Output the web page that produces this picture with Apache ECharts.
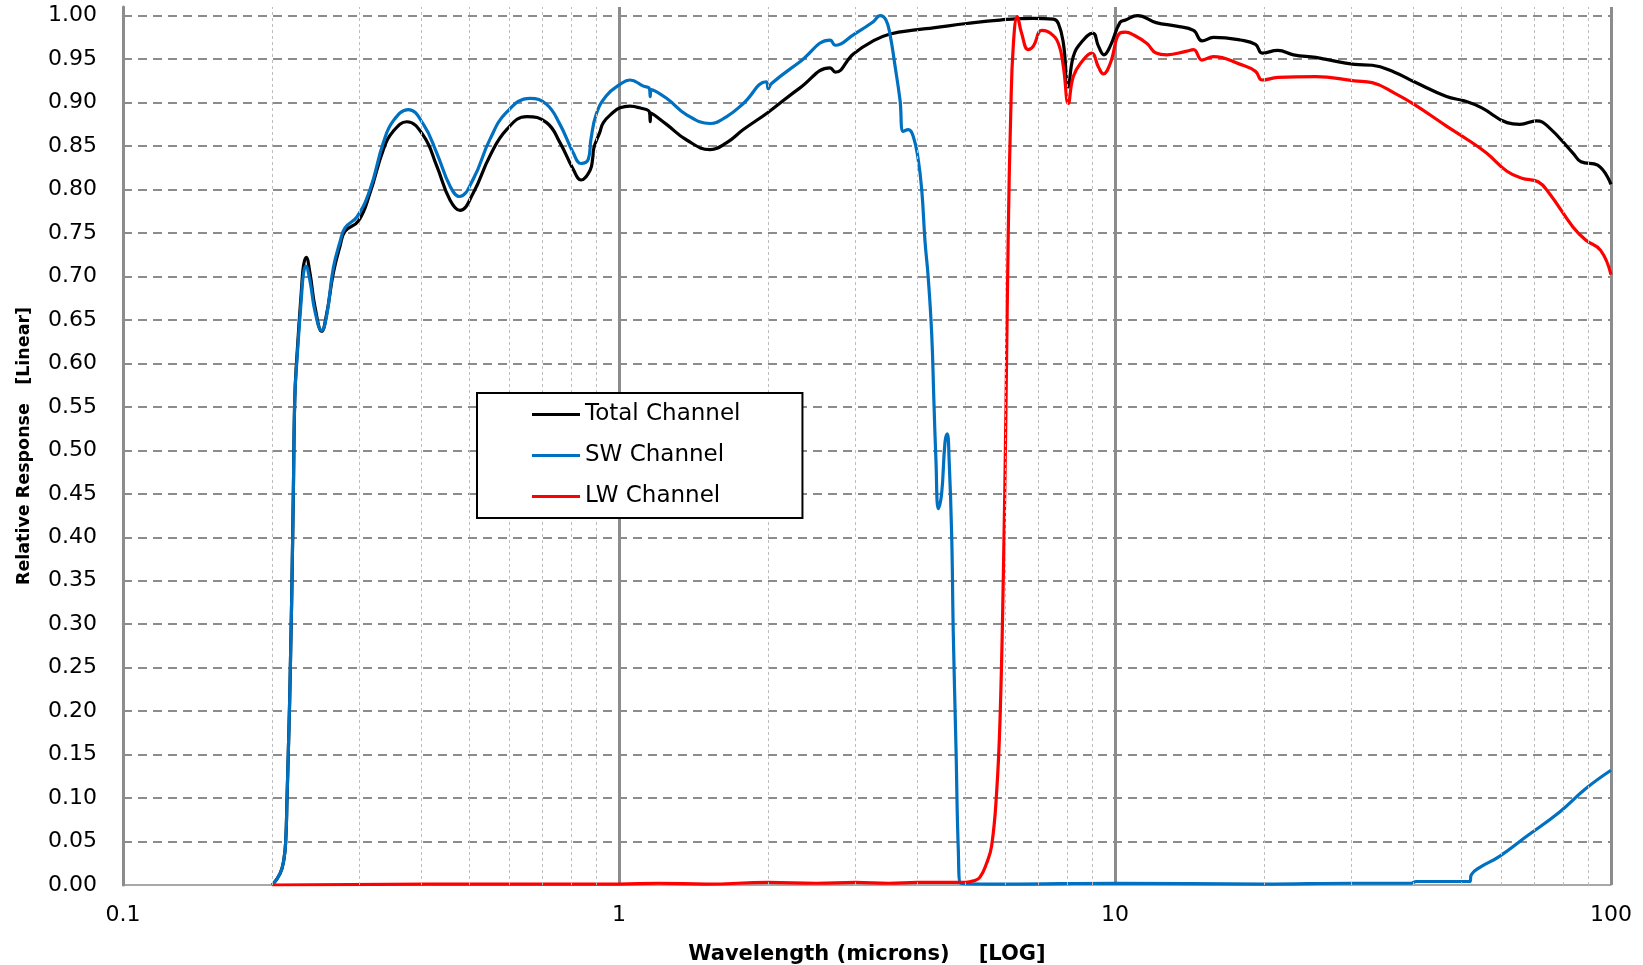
<!DOCTYPE html>
<html>
<head>
<meta charset="utf-8">
<title>Relative spectral response</title>
<script src="https://cdn.jsdelivr.net/npm/echarts@6/dist/echarts.min.js"></script>
<style>
  html, body { margin: 0; padding: 0; background: #fff; }
  #chart { width: 1643px; height: 965px; }
</style>
</head>
<body>
<div id="chart"></div>
<script>
// Wavelength in microns, response normalised to 1.
const totalWl = [0.2, 0.2073, 0.211, 0.2129, 0.2141, 0.2155, 0.2168, 0.2178, 0.2188, 0.2205, 0.222, 0.224, 0.2292, 0.2311, 0.234, 0.2382, 0.2438, 0.2516, 0.2574, 0.2655, 0.2739, 0.2803, 0.2984, 0.3148, 0.3349, 0.3506, 0.3733, 0.4034, 0.4292, 0.4563, 0.4779, 0.5083, 0.5495, 0.5935, 0.6516, 0.7146, 0.7603, 0.809, 0.8384, 0.874, 0.885, 0.89, 0.915, 0.93, 0.97, 1.005, 1.052, 1.1, 1.152, 1.156, 1.16, 1.247, 1.369, 1.526, 1.649, 1.781, 2.0, 2.317, 2.664, 2.73, 2.968, 3.256, 3.52, 4.0, 4.3, 5.02, 5.86, 6.846, 7.51, 7.69, 7.87, 8.05, 8.24, 8.57, 9.02, 9.26, 9.5, 9.78, 10.23, 10.5, 11.1, 12.1, 13.3, 14.4, 14.98, 15.8, 17.9, 19.2, 19.8, 21.3, 22.9, 25.4, 26.5, 30.4, 33.0, 36.6, 40.1, 46.6, 50.6, 54.9, 61.7, 65.5, 70.8, 74.5, 83.8, 87.0, 94.0, 100];
const totalResp = [0, 0.013, 0.029, 0.052, 0.098, 0.156, 0.213, 0.27, 0.328, 0.45, 0.56, 0.605, 0.688, 0.712, 0.722, 0.704, 0.665, 0.637, 0.657, 0.704, 0.735, 0.752, 0.764, 0.796, 0.846, 0.867, 0.878, 0.862, 0.827, 0.788, 0.776, 0.796, 0.839, 0.869, 0.884, 0.877, 0.854, 0.823, 0.811, 0.822, 0.836, 0.848, 0.866, 0.877, 0.888, 0.894, 0.896, 0.894, 0.889, 0.878, 0.888, 0.875, 0.857, 0.846, 0.854, 0.869, 0.889, 0.917, 0.940, 0.935, 0.956, 0.971, 0.979, 0.984, 0.986, 0.991, 0.995, 0.997, 0.996, 0.991, 0.968, 0.918, 0.953, 0.970, 0.980, 0.965, 0.955, 0.965, 0.992, 0.995, 1.000, 0.992, 0.988, 0.983, 0.971, 0.975, 0.972, 0.967, 0.957, 0.960, 0.955, 0.952, 0.950, 0.944, 0.943, 0.935, 0.924, 0.907, 0.902, 0.894, 0.877, 0.875, 0.879, 0.873, 0.842, 0.832, 0.828, 0.806];

const swWl = [0.2, 0.2073, 0.211, 0.2129, 0.2141, 0.2155, 0.2168, 0.2178, 0.2188, 0.2205, 0.222, 0.224, 0.2292, 0.2311, 0.2335, 0.2382, 0.2438, 0.2516, 0.2574, 0.2655, 0.2739, 0.2803, 0.2965, 0.3148, 0.3349, 0.3506, 0.376, 0.4034, 0.4292, 0.4563, 0.4768, 0.5083, 0.5495, 0.5935, 0.6617, 0.7146, 0.7603, 0.809, 0.8384, 0.8673, 0.878, 0.9, 0.943, 1.005, 1.052, 1.12, 1.152, 1.156, 1.16, 1.247, 1.369, 1.526, 1.649, 1.781, 1.98, 2.0, 2.03, 2.317, 2.664, 2.73, 2.968, 3.256, 3.36, 3.453, 3.52, 3.602, 3.686, 3.743, 3.831, 3.92, 4.01, 4.077, 4.14, 4.2, 4.27, 4.315, 4.355, 4.404, 4.47, 4.542, 4.59, 4.63, 4.685, 4.72, 4.78, 4.833, 4.886, 6, 10, 20, 30, 39.5, 40.5, 51.9, 52.3, 54.3, 59.6, 67.6, 78.8, 89.0, 100];
const swResp = [0, 0.013, 0.029, 0.052, 0.098, 0.156, 0.213, 0.27, 0.328, 0.45, 0.56, 0.600, 0.680, 0.703, 0.712, 0.695, 0.660, 0.638, 0.655, 0.710, 0.740, 0.756, 0.769, 0.800, 0.854, 0.879, 0.892, 0.875, 0.842, 0.804, 0.792, 0.812, 0.858, 0.889, 0.905, 0.898, 0.875, 0.842, 0.830, 0.835, 0.858, 0.887, 0.908, 0.921, 0.926, 0.919, 0.916, 0.907, 0.915, 0.905, 0.886, 0.876, 0.884, 0.899, 0.924, 0.916, 0.922, 0.947, 0.972, 0.966, 0.978, 0.993, 1.000, 0.995, 0.978, 0.942, 0.903, 0.867, 0.869, 0.861, 0.835, 0.800, 0.740, 0.700, 0.634, 0.555, 0.489, 0.433, 0.449, 0.509, 0.519, 0.489, 0.403, 0.290, 0.158, 0.038, 0.002, 0.001, 0.002, 0.001, 0.002, 0.002, 0.004, 0.004, 0.012, 0.020, 0.033, 0.056, 0.084, 0.111, 0.132];

const lwWl = [0.2, 0.5, 1.0, 1.2, 1.5, 2.0, 2.5, 3.0, 3.5, 4.0, 4.5, 5.0, 5.2, 5.344, 5.51, 5.64, 5.77, 5.864, 5.955, 6.03, 6.094, 6.162, 6.237, 6.355, 6.48, 6.686, 6.846, 7.115, 7.4, 7.69, 7.87, 8.05, 8.24, 8.57, 8.97, 9.26, 9.47, 9.78, 10.23, 10.5, 10.89, 11.6, 12.1, 12.72, 13.9, 14.4, 14.98, 15.8, 17.9, 19.2, 19.8, 21.3, 25.4, 30.4, 33.0, 36.6, 40.1, 46.6, 51.5, 56.1, 61.7, 66.1, 71.3, 75.0, 83.8, 88.9, 95.3, 100];
const lwResp = [0, 0.001, 0.001, 0.002, 0.001, 0.003, 0.002, 0.003, 0.002, 0.003, 0.003, 0.003, 0.005, 0.009, 0.025, 0.045, 0.105, 0.190, 0.356, 0.555, 0.754, 0.886, 0.966, 0.999, 0.980, 0.961, 0.965, 0.983, 0.980, 0.968, 0.941, 0.899, 0.930, 0.947, 0.957, 0.941, 0.933, 0.945, 0.980, 0.981, 0.978, 0.968, 0.957, 0.955, 0.959, 0.961, 0.949, 0.953, 0.944, 0.936, 0.926, 0.929, 0.930, 0.925, 0.923, 0.911, 0.898, 0.873, 0.857, 0.842, 0.821, 0.813, 0.809, 0.796, 0.757, 0.742, 0.730, 0.702];

const seriesNames = ['Total Channel', 'SW Channel', 'LW Channel'];
const seriesColors = ['#000000', '#0070c0', '#ff0000'];

// Intermediate wavelengths inside each decade (thin dashed verticals)
const minorGrid = [0.2, 0.3, 0.4, 0.5, 0.6, 0.7, 0.8, 0.9, 2, 3, 4, 5, 6, 7, 8, 9, 20, 30, 40, 50, 60, 70, 80, 90];

const zip = (xs, ys) => xs.map((x, i) => [x, ys[i]]);

const FONT = 'DejaVu Sans';
const GRID_GRAY = '#8c8c8c';

const chart = echarts.init(document.getElementById('chart'), null, { renderer: 'canvas' });

const lineSeries = (name, color, data) => ({
  name,
  type: 'line',
  data,
  symbol: 'none',
  smooth: 0.45,
  lineStyle: { color, width: 3.2 },
  itemStyle: { color },
  z: 3
});

chart.setOption({
  animation: false,
  backgroundColor: '#ffffff',
  grid: { left: 123, right: 32, top: 7, bottom: 80, containLabel: false, outerBoundsMode: 'none' },
  legend: {
    data: seriesNames,
    orient: 'vertical',
    left: 477,
    top: 393,
    padding: [10, 62, 10, 55],
    itemGap: 18,
    itemWidth: 48,
    itemHeight: 3,
    icon: 'rect',
    backgroundColor: '#ffffff',
    borderColor: '#000000',
    borderWidth: 2,
    borderRadius: 0,
    textStyle: { fontFamily: FONT, fontSize: 23, color: '#000000' },
    selectedMode: false,
    z: 10
  },
  xAxis: {
    type: 'log',
    logBase: 10,
    min: 0.1,
    max: 100,
    name: 'Wavelength (microns)    [LOG]',
    nameLocation: 'middle',
    nameGap: 59,
    nameTextStyle: { fontFamily: FONT, fontSize: 21, fontWeight: 'bold', color: '#000000' },
    axisLine: { show: true, lineStyle: { color: GRID_GRAY, width: 1.5 } },
    axisTick: { show: false },
    axisLabel: {
      fontFamily: FONT, fontSize: 22, color: '#000000', margin: 19,
      formatter: v => String(+v.toPrecision(3))
    },
    splitLine: { show: true, lineStyle: { color: GRID_GRAY, width: 3, type: 'solid' } }
  },
  yAxis: {
    type: 'value',
    min: 0,
    max: 1.01,
    interval: 0.05,
    name: 'Relative Response   [Linear]',
    nameLocation: 'middle',
    nameRotate: 90,
    nameGap: 90,
    nameTextStyle: { fontFamily: FONT, fontSize: 17.5, fontWeight: 'bold', color: '#000000' },
    axisLine: { show: true, lineStyle: { color: GRID_GRAY, width: 3 } },
    axisTick: { show: false },
    axisLabel: {
      fontFamily: FONT, fontSize: 22, color: '#000000', margin: 26,
      showMaxLabel: false,
      formatter: v => v.toFixed(2)
    },
    splitLine: {
      show: true,
      showMinLine: false,
      showMaxLine: false,
      lineStyle: { color: GRID_GRAY, width: 2, type: [9, 6] }
    }
  },
  series: [
    {
      name: 'minor-grid',
      type: 'line',
      data: [],
      symbol: 'none',
      silent: true,
      z: 1,
      markLine: {
        silent: true,
        symbol: 'none',
        label: { show: false },
        animation: false,
        lineStyle: { color: '#bdbdbd', width: 1, type: [3, 3] },
        emphasis: { disabled: true },
        data: minorGrid.map(v => ({ xAxis: v }))
      }
    },
    lineSeries(seriesNames[0], seriesColors[0], zip(totalWl, totalResp)),
    lineSeries(seriesNames[1], seriesColors[1], zip(swWl, swResp)),
    lineSeries(seriesNames[2], seriesColors[2], zip(lwWl, lwResp))
  ]
});
</script>
</body>
</html>
